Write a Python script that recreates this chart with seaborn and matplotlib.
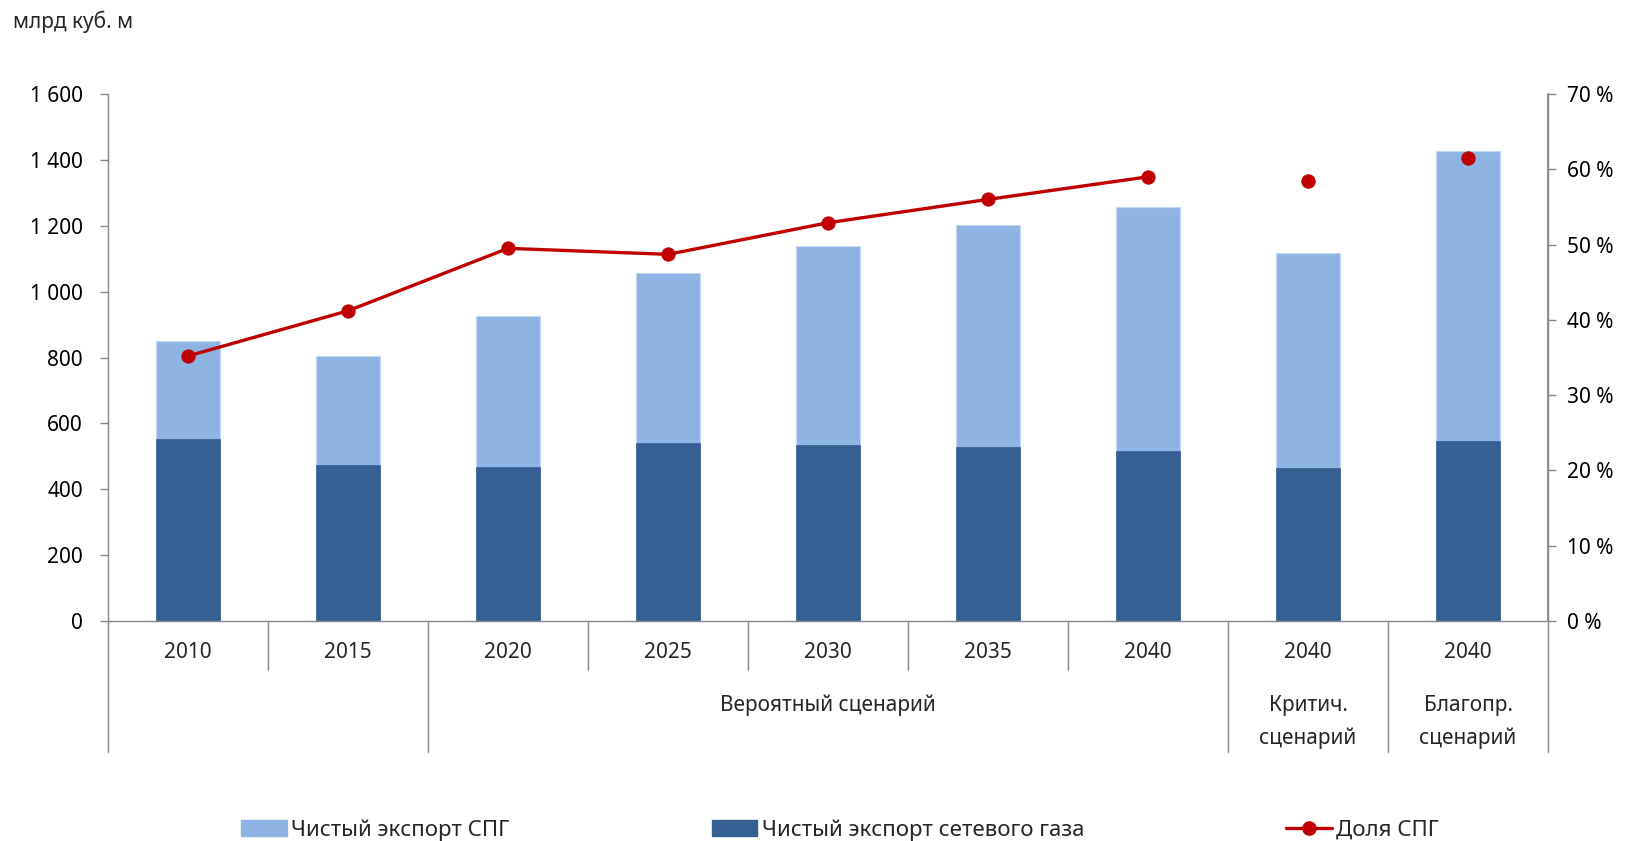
import numpy as np
import pandas as pd
import matplotlib
matplotlib.use("Agg")
import matplotlib.pyplot as plt
import matplotlib.transforms as mtransforms
from matplotlib.patches import Patch
from matplotlib.lines import Line2D
import seaborn as sns

# ---------------- data ----------------
cat_ids = ["2010", "2015", "2020", "2025", "2030", "2035", "2040", "2040 крит", "2040 благопр"]
year_labels = ["2010", "2015", "2020", "2025", "2030", "2035", "2040", "2040", "2040"]
pipeline = [553, 474, 467, 541, 534, 527, 516, 463, 548]
lng = [298, 330, 458, 515, 604, 675, 742, 653, 878]
share = [35.2, 41.2, 49.5, 48.7, 52.9, 56.0, 59.0, 58.5, 61.5]
left_ticks = [0, 200, 400, 600, 800, 1000, 1200, 1400, 1600]
right_ticks = [0, 10, 20, 30, 40, 50, 60, 70]

legend_labels = ["Чистый экспорт СПГ", "Чистый экспорт сетевого газа", "Доля СПГ"]
y_title = "млрд куб. м"
group_label = "Вероятный сценарий"
crit_label = ["Критич.", "сценарий"]
fav_label = ["Благопр.", "сценарий"]

# ---------------- style ----------------
sns.set_theme(style="white")
plt.rcParams["font.family"] = ["Noto Sans", "DejaVu Sans"]

LIGHT = "#8EB4E3"
DARK = "#366092"
RED = "#C00000"
GRAY = "#888888"
FS = 15

df = pd.DataFrame({
    "cat": cat_ids,
    "pipeline": pipeline,
    "lng": lng,
})
df["total"] = df["pipeline"] + df["lng"]

fig = plt.figure(figsize=(16.26, 8.41), dpi=100)
ax = fig.add_axes([108 / 1626, 1 - 621 / 841, 1440 / 1626, 527 / 841])

sns.barplot(data=df, x="cat", y="total", order=cat_ids, color=LIGHT, width=0.4,
            saturation=1, edgecolor="#C5D9F1", linewidth=0.8, ax=ax)
sns.barplot(data=df, x="cat", y="pipeline", order=cat_ids, color=DARK, width=0.4,
            saturation=1, edgecolor=DARK, linewidth=0.5, ax=ax)

ax.set_xlim(-0.5, len(cat_ids) - 0.5)
ax.set_ylim(0, 1600)
ax.set_yticks(left_ticks)
ax.set_yticklabels([f"{v:,}".replace(",", " ") for v in left_ticks], fontsize=FS)
ax.set_xticks([])
ax.set_xlabel("")
ax.set_ylabel("")
ax.tick_params(axis="y", which="both", left=True, length=6, width=1, color=GRAY, pad=12,
               labelcolor="black")
for s in ["top"]:
    ax.spines[s].set_visible(False)
for s in ["left", "bottom", "right"]:
    ax.spines[s].set_color(GRAY)
    ax.spines[s].set_linewidth(1)

# secondary axis: share
ax2 = ax.twinx()
idx = np.arange(len(cat_ids))
sns.lineplot(x=idx[:7], y=share[:7], color=RED, lw=2.4, marker="o", markersize=9.5,
             markeredgecolor=RED, ax=ax2)
sns.scatterplot(x=idx[7:], y=share[7:], color=RED, s=92, edgecolor=RED, ax=ax2, zorder=5)
ax2.set_xlim(-0.5, len(cat_ids) - 0.5)
ax2.set_ylim(0, 70)
ax2.set_yticks(right_ticks)
ax2.set_yticklabels([f"{v} %" for v in right_ticks], fontsize=FS)
ax2.tick_params(axis="y", right=True, length=6, width=1, color=GRAY, pad=8, labelcolor="black")
ax2.set_ylabel("")
ax2.grid(False)
ax.grid(False)
for s in ["top", "left", "bottom"]:
    ax2.spines[s].set_visible(False)
ax2.spines["right"].set_color(GRAY)

# category axis decorations
trans = mtransforms.blended_transform_factory(ax.transData, ax.transAxes)
short_y = -49 / 527
long_y = -131 / 527
long_bounds = {0, 2, 7, 8, 9}
for b in range(len(cat_ids) + 1):
    yb = long_y if b in long_bounds else short_y
    ax.plot([b - 0.5, b - 0.5], [0, yb], transform=trans, color=GRAY, lw=1, clip_on=False)

for i, lab in enumerate(year_labels):
    ax.text(i, -32 / 527, lab, transform=trans, ha="center", va="center", fontsize=FS)

line1_y = -84 / 527
line2_y = -117 / 527
ax.text(4, line1_y, group_label, transform=trans, ha="center", va="center", fontsize=FS)
ax.text(7, line1_y, crit_label[0], transform=trans, ha="center", va="center", fontsize=FS)
ax.text(7, line2_y, crit_label[1], transform=trans, ha="center", va="center", fontsize=FS)
ax.text(8, line1_y, fav_label[0], transform=trans, ha="center", va="center", fontsize=FS)
ax.text(8, line2_y, fav_label[1], transform=trans, ha="center", va="center", fontsize=FS)

fig.text(13 / 1626, 1 - 22 / 841, y_title, ha="left", va="center", fontsize=FS)

handles = [
    Patch(facecolor=LIGHT, edgecolor=LIGHT),
    Patch(facecolor=DARK, edgecolor=DARK),
    Line2D([0], [0], color=RED, lw=2.4, marker="o", markersize=9.5),
]
fig.legend(handles, legend_labels, loc="center left", bbox_to_anchor=(241 / 1626, 1 - 830 / 841),
           ncol=3, frameon=False, fontsize=16, columnspacing=9.1, handlelength=2.05,
           handletextpad=0.2, borderaxespad=0, borderpad=0)

fig.savefig("out.png", dpi=100)
